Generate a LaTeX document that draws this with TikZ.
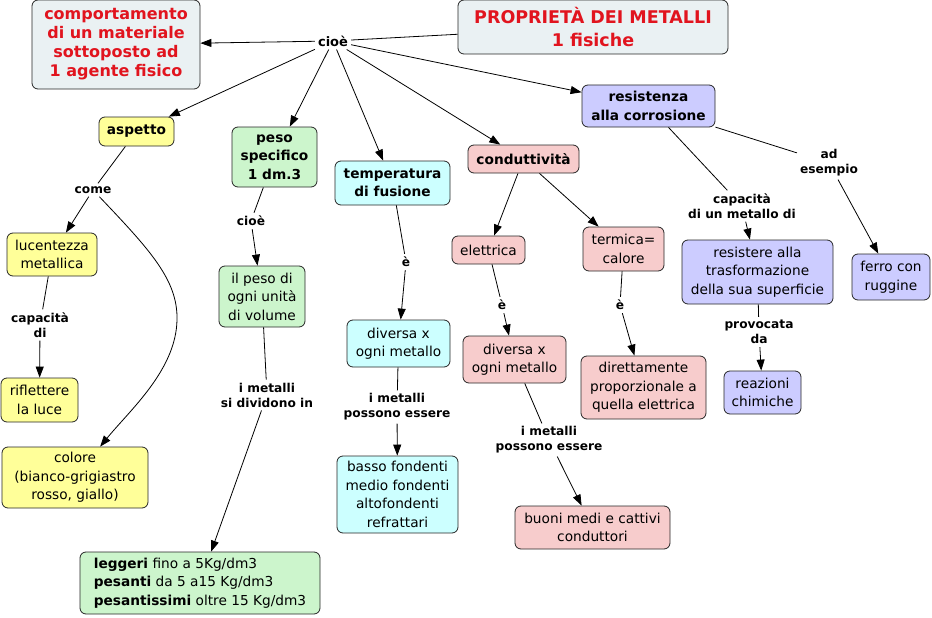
\documentclass[tikz,border=0pt]{standalone}
\usepackage{fontspec}
\setmainfont{DejaVu Sans}
\usetikzlibrary{arrows.meta}
\definecolor{cgray}{RGB}{234,241,243}
\definecolor{cyel}{RGB}{255,255,153}
\definecolor{cgreen}{RGB}{204,245,204}
\definecolor{ccyan}{RGB}{204,255,255}
\definecolor{cpink}{RGB}{247,204,204}
\definecolor{clav}{RGB}{204,204,255}
\definecolor{cred}{RGB}{225,20,30}
\tikzset{
  box/.style={draw=black!85, line width=0.8pt, rounded corners=6pt, align=center, inner sep=0pt,
    font=\fontsize{13.7}{18.5}\selectfont},
  bbox/.style={box, font=\fontsize{13.7}{18.5}\selectfont\bfseries},
  lab/.style={align=center, inner sep=3pt, font=\fontsize{12.2}{15}\selectfont\bfseries},
  con/.style={line width=0.8pt, black},
  arr/.style={con, -{Triangle[length=11pt,width=8pt]}},
}
\begin{document}
\begin{tikzpicture}[x=1pt,y=-1pt]
\useasboundingbox (0,0) rectangle (932,618);
% main boxes
\node[box, fill=cgray, text=cred, minimum width=168pt, minimum height=89pt,
  font=\fontsize{16}{19}\selectfont\bfseries] (comport) at (116,44.5)
  {comportamento\\ di un materiale\\sottoposto ad\\ 1 agente fisico};
\node[box, fill=cgray, text=cred, minimum width=270pt, minimum height=54pt,
  font=\fontsize{17.5}{23}\selectfont\bfseries] (title) at (593,27)
  {PROPRIETÀ DEI METALLI\\1 fisiche};
\node[lab, font=\fontsize{13}{15}\selectfont\bfseries] (cioe) at (333,41) {cioè};
\node[bbox, fill=cyel, minimum width=75pt, minimum height=29pt] (aspetto) at (136.5,131.5) {aspetto};
\node[bbox, fill=cgreen, minimum width=85pt, minimum height=60pt] (peso) at (274.5,157) {peso\\specifico\\1 dm.3};
\node[bbox, fill=ccyan, minimum width=115pt, minimum height=44pt] (temp) at (392.5,183) {temperatura\\di fusione};
\node[bbox, fill=cpink, minimum width=111pt, minimum height=28pt] (cond) at (523.5,159) {conduttività};
\node[bbox, fill=clav, minimum width=133pt, minimum height=42pt] (resist) at (648.5,106) {resistenza\\alla corrosione};
% aspetto branch
\node[lab] (come) at (93,190) {come};
\node[box, fill=cyel, minimum width=90pt, minimum height=43pt] (lucent) at (52,254.5) {lucentezza\\metallica};
\node[lab] (capdi) at (40,325) {capacità\\di};
\node[box, fill=cyel, minimum width=77pt, minimum height=44pt] (rifl) at (39.5,400) {riflettere\\la luce};
\node[box, fill=cyel, minimum width=146pt, minimum height=61pt] (colore) at (75,477.5) {colore\\(bianco-grigiastro\\rosso, giallo)};
% peso branch
\node[lab] (cioeb) at (251,221) {cioè};
\node[box, fill=cgreen, minimum width=86pt, minimum height=61pt] (ilpeso) at (262,296.5) {il peso di\\ogni unità\\di volume};
\node[lab] (divid) at (267,395) {i metalli\\si dividono in};
\node[box, fill=cgreen, minimum width=240pt, minimum height=62pt, align=left] (legg) at (200,583)
  {\textbf{leggeri} fino a 5Kg/dm3\\\textbf{pesanti} da 5 a15 Kg/dm3\\\textbf{pesantissimi} oltre 15 Kg/dm3};
% temperatura branch
\node[lab] (ea) at (406,262) {è};
\node[box, fill=ccyan, minimum width=103pt, minimum height=47pt] (divt) at (398.5,343.5) {diversa x\\ogni metallo};
\node[lab] (possa) at (397,407) {i metalli\\possono essere};
\node[box, fill=ccyan, minimum width=121pt, minimum height=77pt] (basso) at (397.5,494.5) {basso fondenti\\medio fondenti\\altofondenti\\refrattari};
% conduttivita branch
\node[box, fill=cpink, minimum width=73pt, minimum height=28pt] (elet) at (488.5,250) {elettrica};
\node[box, fill=cpink, minimum width=81pt, minimum height=44pt] (term) at (623.5,249) {termica=\\calore};
\node[lab] (eb) at (502,305) {è};
\node[lab] (ec) at (620,305) {è};
\node[box, fill=cpink, minimum width=103pt, minimum height=47pt] (divc) at (514.5,359.5) {diversa x\\ogni metallo};
\node[box, fill=cpink, minimum width=125pt, minimum height=63pt] (dirett) at (643.5,387.5) {direttamente\\proporzionale a\\quella elettrica};
\node[lab] (possb) at (549,440) {i metalli\\possono essere};
\node[box, fill=cpink, minimum width=155pt, minimum height=43pt] (buoni) at (592.5,527.5) {buoni medi e cattivi\\conduttori};
% resistenza branch
\node[lab] (capmet) at (742,206) {capacità\\di un metallo di};
\node[box, fill=clav, minimum width=151pt, minimum height=64pt] (resistere) at (757.5,272) {resistere alla\\trasformazione\\della sua superficie};
\node[lab] (provoc) at (759,332) {provocata\\da};
\node[box, fill=clav, minimum width=77pt, minimum height=43pt] (reaz) at (762.5,392.5) {reazioni\\chimiche};
\node[lab] (adesem) at (829,163) {ad\\esempio};
\node[box, fill=clav, minimum width=78pt, minimum height=46pt] (ferro) at (891,277) {ferro con\\ruggine};
% connectors
\draw[con] (title) -- (cioe);
\draw[arr] (cioe) -- (comport);
\draw[arr] (cioe) -- (aspetto);
\draw[arr] (cioe) -- (peso);
\draw[arr] (cioe) -- (temp);
\draw[arr] (cioe) -- (cond);
\draw[arr] (cioe) -- (resist);
\draw[con] (aspetto) -- (come);
\draw[arr] (come) -- (lucent);
\draw[arr] (come) .. controls (150,250) and (178,280) .. (177,320) .. controls (176,370) and (130,410) .. (colore);
\draw[con] (lucent) -- (capdi);
\draw[arr] (capdi) -- (rifl);
\draw[con] (peso) -- (cioeb);
\draw[arr] (cioeb) -- (ilpeso);
\draw[con] (ilpeso) -- (divid);
\draw[arr] (divid) -- (legg);
\draw[con] (temp) -- (ea);
\draw[arr] (ea) -- (divt);
\draw[con] (divt) -- (possa);
\draw[arr] (possa) -- (basso);
\draw[arr] (cond) -- (elet);
\draw[arr] (cond) -- (term);
\draw[con] (elet) -- (eb);
\draw[arr] (eb) -- (divc);
\draw[con] (term) -- (ec);
\draw[arr] (ec) -- (dirett);
\draw[con] (divc) -- (possb);
\draw[arr] (possb) -- (buoni);
\draw[con] (resist) -- (capmet);
\draw[arr] (capmet) -- (resistere);
\draw[con] (resist) -- (adesem);
\draw[arr] (adesem) -- (ferro);
\draw[con] (resistere) -- (provoc);
\draw[arr] (provoc) -- (reaz);
\end{tikzpicture}
\end{document}
